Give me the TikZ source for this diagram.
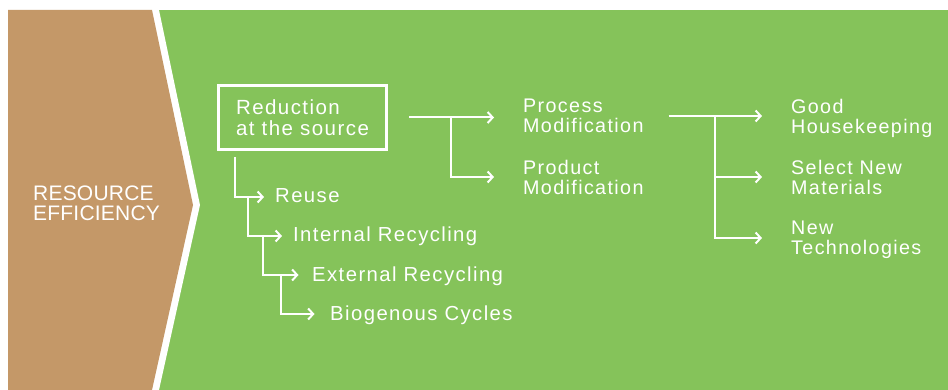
\documentclass[tikz,border=0pt]{standalone}
\usepackage{fontspec}
\setmainfont{Liberation Sans}
\newfontfamily\labfont{Liberation Sans}[LetterSpace=7]
\newfontfamily\resfont{Liberation Sans}[LetterSpace=1]
\usetikzlibrary{arrows.meta}
\definecolor{bggreen}{HTML}{85C35A}
\definecolor{brownc}{HTML}{C49868}
\begin{document}
\begin{tikzpicture}[x=1pt,y=-1pt,
  lab/.style={text=white, font=\labfont\fontsize{19.7}{20}\selectfont, inner sep=0pt, align=left, anchor=west, text depth=0pt},
  single/.style={lab, font=\labfont\fontsize{20.3}{20}\selectfont, text height=12pt},
  conn/.style={draw=white, line width=2pt, -{Straight Barb[length=5pt,width=11pt]}},
  boxnode/.style={draw=white, line width=3pt, text=white, font=\labfont\fontsize{20.5}{21}\selectfont, inner sep=0pt, align=left, minimum width=168pt, minimum height=64pt}
]
\useasboundingbox (0,0) rectangle (948,390);
\fill[white] (0,0) rectangle (948,390);
\fill[bggreen] (8,10) rectangle (948,390);
\fill[white] (8,10) -- (159,10) -- (200,205) -- (159,390) -- (8,390) -- cycle;
\fill[brownc] (8,10) -- (152,10) -- (193,205) -- (152,390) -- (8,390) -- cycle;

\node[text=white, font=\resfont\fontsize{21}{20}\selectfont, inner sep=0pt, align=left, anchor=north west] (res) at (33,186) {RESOURCE\\EFFICIENCY};

\node[boxnode] (red) at (302.5,117.5) {Reduction\\at the source};

\node[lab] (proc) at (523,116) {Process\\Modification};
\node[lab] (prod) at (523,177) {Product\\Modification};
\node[lab] (good) at (791,116) {Good\\Housekeeping};
\node[lab] (sel) at (791,177) {Select New\\Materials};
\node[lab] (newt) at (791,238) {New\\Technologies};

\node[single] (reuse) at (275,197) {Reuse};
\node[single] (intr) at (293,236) {Internal Recycling};
\node[single] (extr) at (312,275) {External Recycling};
\node[single] (bio) at (330,314) {Biogenous Cycles};

\coordinate (j1) at (451,117.5);
\coordinate (j2) at (715,116);
\coordinate (c1) at (235,157);
\coordinate (c2) at (248,197);
\coordinate (c3) at (263,236);
\coordinate (c4) at (281,275);

\draw[conn, shorten <=21pt, shorten >=29pt] (red.east) -- (red.east -| proc.west);
\draw[conn, shorten >=29pt] (j1) |- (prod.west);
\draw[conn, shorten <=25pt, shorten >=29pt] (proc.east) -- (proc.east -| good.west);
\draw[conn, shorten >=29pt] (j2) |- (sel.west);
\draw[conn, shorten >=29pt] (j2) |- (newt.west);

\draw[conn, shorten >=11pt] (c1) |- (reuse.west);
\draw[conn, shorten >=11pt] (c2) |- (intr.west);
\draw[conn, shorten >=13.5pt] (c3) |- (extr.west);
\draw[conn, shorten >=15.5pt] (c4) |- (bio.west);
\end{tikzpicture}
\end{document}
